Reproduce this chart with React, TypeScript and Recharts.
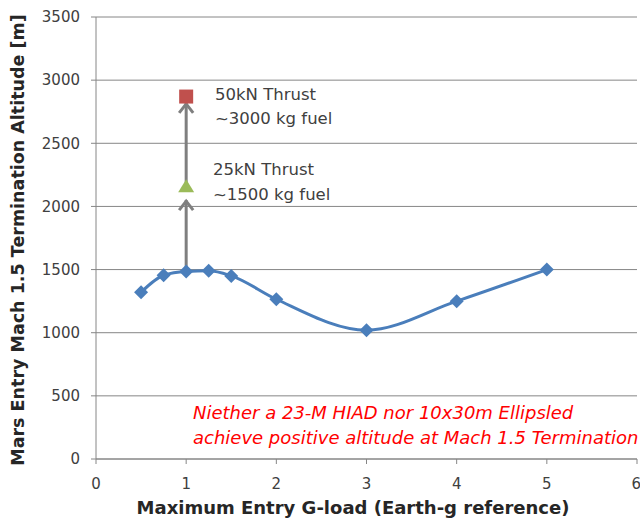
import * as React from 'react';
import {
  ComposedChart, Line, Scatter, XAxis, YAxis, CartesianGrid, ReferenceLine,
} from 'recharts';

// Mach 1.5 termination altitude vs max entry g-load
const gLoad = [0.5, 0.75, 1, 1.25, 1.5, 2, 3, 4, 5];
const altitude = [1320, 1455, 1485, 1490, 1450, 1265, 1020, 1250, 1500];

const thrust50 = [{ x: 1, y: 2870 }];
const thrust25 = [{ x: 1, y: 2160 }];

// arrow segments (x, from, to)
const arrows = [
  { x: 1, from: 1490, to: 2050 },
  { x: 1, from: 2160, to: 2820 },
];

const xTicks = [0, 1, 2, 3, 4, 5, 6];
const yTicks = [0, 500, 1000, 1500, 2000, 2500, 3000, 3500];

const curve = gLoad.map((g, i) => ({ x: g, y: altitude[i] }));

const FONT = '"DejaVu Sans", "Liberation Sans", sans-serif';
const BLUE = '#4a7ebb';
const GRID = '#868686';
const TEXT = '#404040';

const Diamond = (props: any) => {
  const { cx, cy, index } = props;
  if (cx == null || cy == null) return <g key={index} />;
  const r = 7;
  return <path key={index} d={`M${cx},${cy - r}L${cx + r},${cy}L${cx},${cy + r}L${cx - r},${cy}Z`} fill={BLUE} />;
};

const Square = (props: any) => {
  const { cx, cy } = props;
  return <rect x={cx - 7} y={cy - 7} width={14} height={14} fill="#c0504d" />;
};

const Triangle = (props: any) => {
  const { cx, cy } = props;
  return <path d={`M${cx},${cy - 7}L${cx + 8},${cy + 6}L${cx - 8},${cy + 6}Z`} fill="#9bbb59" />;
};

const Arrow = (props: any) => {
  const { x1, y1, x2, y2 } = props;
  return (
    <g>
      <line x1={x1} y1={y1} x2={x2} y2={y2} stroke="#7f7f7f" strokeWidth={3} />
      <polyline
        points={`${x2 - 7},${y2 + 10} ${x2},${y2 + 1} ${x2 + 7},${y2 + 10}`}
        fill="none"
        stroke="#7f7f7f"
        strokeWidth={3}
      />
    </g>
  );
};

export default function App() {
  return (
    <div style={{ position: 'absolute', left: 0, top: 0, width: 640, height: 521, background: 'white', fontFamily: FONT }}>
      <ComposedChart width={640} height={521} margin={{ top: 17, right: 3, left: 0, bottom: 0 }}>
        <CartesianGrid horizontal vertical={false} stroke={GRID} strokeWidth={1} />
        <XAxis
          type="number"
          dataKey="x"
          domain={[0, 6]}
          ticks={xTicks}
          height={62}
          axisLine={{ stroke: GRID }}
          tickLine={{ stroke: GRID }}
          tickSize={5}
          tickMargin={14}
          tick={{ fill: TEXT, fontSize: 15, fontFamily: FONT }}
        />
        <YAxis
          type="number"
          domain={[0, 3500]}
          ticks={yTicks}
          width={96}
          axisLine={{ stroke: GRID }}
          tickLine={{ stroke: GRID }}
          tickSize={5}
          tickMargin={11}
          tick={{ fill: TEXT, fontSize: 15, fontFamily: FONT }}
        />
        {arrows.map((a, i) => (
          <ReferenceLine
            key={i}
            segment={[{ x: a.x, y: a.from }, { x: a.x, y: a.to }]}
            shape={<Arrow />}
          />
        ))}
        <Line
          data={curve}
          dataKey="y"
          type="monotone"
          stroke={BLUE}
          strokeWidth={3}
          dot={Diamond}
          activeDot={false}
          isAnimationActive={false}
        />
        <Scatter data={thrust50} dataKey="y" shape={<Square />} isAnimationActive={false} />
        <Scatter data={thrust25} dataKey="y" shape={<Triangle />} isAnimationActive={false} />
      </ComposedChart>
      <svg width={640} height={521} style={{ position: 'absolute', left: 0, top: 0, pointerEvents: 'none' }}>
        <text
          transform="translate(24,240) rotate(-90)"
          textAnchor="middle"
          fontSize={17.5}
          fontWeight="bold"
          fill="#262626"
          fontFamily={FONT}
        >
          Mars Entry Mach 1.5 Termination Altitude [m]
        </text>
        <text x={353} y={514} textAnchor="middle" fontSize={18} fontWeight="bold" fill="#262626" fontFamily={FONT}>
          Maximum Entry G-load (Earth-g reference)
        </text>
        <g fontSize={16.5} fill={TEXT} fontFamily={FONT}>
          <text x={215} y={100}>50kN  Thrust</text>
          <text x={215} y={124}>~3000 kg fuel</text>
          <text x={213} y={175}>25kN Thrust</text>
          <text x={213} y={200}>~1500 kg fuel</text>
        </g>
        <g fontSize={18} fill="#ff0000" fontStyle="italic" fontFamily={FONT}>
          <text x={193} y={419}>Niether a 23-M HIAD nor 10x30m Ellipsled</text>
          <text x={193} y={444}>achieve positive altitude at Mach 1.5 Termination</text>
        </g>
      </svg>
    </div>
  );
}
